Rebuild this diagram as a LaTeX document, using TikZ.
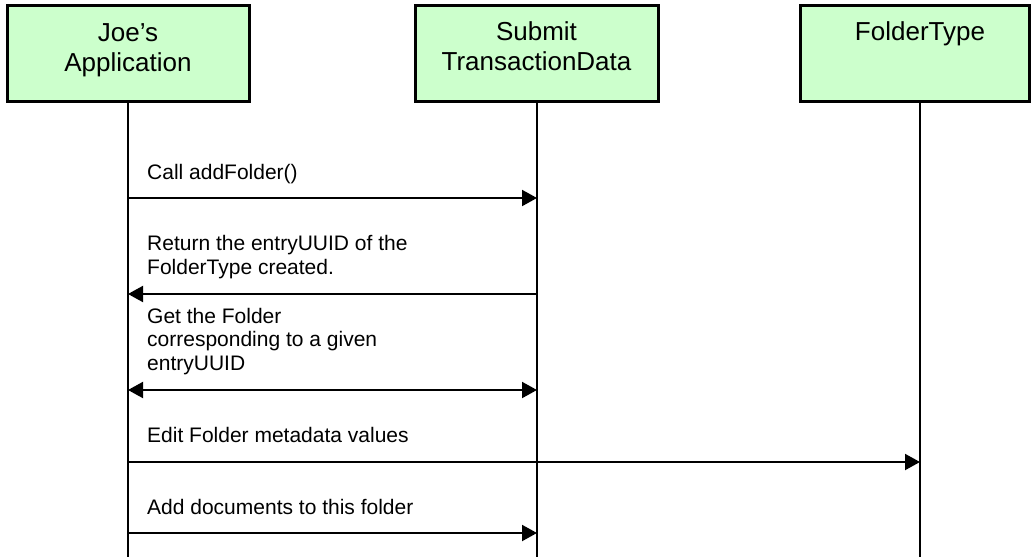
\documentclass[tikz,border=0pt]{standalone}
\usepackage{fontspec}
\setmainfont{Liberation Sans}
\usetikzlibrary{arrows.meta}
\definecolor{boxgreen}{HTML}{CCFFCC}
\tikzset{
  x=1pt, y=-1pt,
  actorbox/.style={draw=black, line width=3pt, fill=boxgreen, inner sep=0pt},
  actortext/.style={font=\fontsize{26}{30}\selectfont, align=center, inner sep=0pt, anchor=base},
  lifeline/.style={line width=2pt},
  msg/.style={line width=2pt, -{Triangle[length=15pt,width=16pt]}},
  msgboth/.style={line width=2pt, {Triangle[length=15pt,width=16pt]}-{Triangle[length=15pt,width=16pt]}},
  msgtext/.style={font=\fontsize{21}{23.2}\selectfont, align=left, inner sep=0pt, anchor=base west}
}
\begin{document}
\begin{tikzpicture}
\useasboundingbox (0,0) rectangle (1031,557);

% participants (base anchor sits on the last text line)
\node[actorbox, minimum width=242pt, minimum height=96pt] (joe) at (128,53) {};
\node[actorbox, minimum width=243pt, minimum height=96pt] (submit) at (536.5,53) {};
\node[actorbox, minimum width=229pt, minimum height=96pt] (folder) at (914.5,53) {};
\node[actortext] (joetxt) at (128,71.5) {Joe’s\\Application};
\node[actortext] (submittxt) at (536.5,70) {Submit\\TransactionData};
\node[actortext] (foldertxt) at (920,40) {FolderType};

% lifeline anchors
\coordinate (joeL) at (128,101);
\coordinate (submitL) at (537,101);
\coordinate (folderL) at (920,101);
\coordinate (bottom) at (0,558);
\draw[lifeline] (joeL) -- (joeL |- bottom);
\draw[lifeline] (submitL) -- (submitL |- bottom);
\draw[lifeline] (folderL) -- (folderL |- bottom);

% message rows
\coordinate (r1) at (0,198);
\coordinate (r2) at (0,294);
\coordinate (r3) at (0,390);
\coordinate (r4) at (0,462);
\coordinate (r5) at (0,533);

\draw[msg] (joeL |- r1) -- (submitL |- r1);
\draw[msg] (submitL |- r2) -- (joeL |- r2);
\draw[msgboth] (joeL |- r3) -- (submitL |- r3);
\draw[msg] (joeL |- r4) -- (folderL |- r4);
\draw[msg] (joeL |- r5) -- (submitL |- r5);

% message labels
\node[msgtext] (t1) at (147,179) {Call addFolder()};
\node[msgtext] (t2) at (147,274) {Return the entryUUID of the\\FolderType created.};
\node[msgtext] (t3) at (147,370) {Get the Folder\\corresponding to a given\\entryUUID};
\node[msgtext] (t4) at (147,442) {Edit Folder metadata values};
\node[msgtext] (t5) at (147,514) {Add documents to this folder};
\end{tikzpicture}
\end{document}
